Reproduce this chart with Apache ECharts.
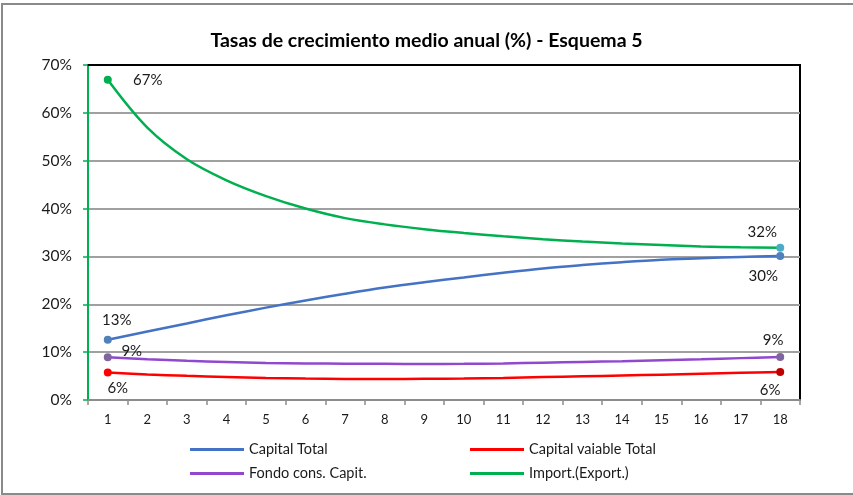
<!DOCTYPE html>
<html>
<head>
<meta charset="utf-8">
<style>
  html, body { margin: 0; padding: 0; background: #fff; }
  #chart { width: 853px; height: 495px; }
</style>
<script src="https://cdn.jsdelivr.net/npm/echarts@6/dist/echarts.min.js"></script>
</head>
<body>
<div id="chart"></div>
<script>
// Años del horizonte de proyección
const years = ['1','2','3','4','5','6','7','8','9','10','11','12','13','14','15','16','17','18'];

// Tasas de crecimiento medio anual (%)
const capitalTotal = [12.6, 14.3, 16.0, 17.7, 19.3, 20.8, 22.2, 23.5, 24.6, 25.6, 26.6, 27.5, 28.2, 28.8, 29.3, 29.6, 29.9, 30.1];
const capitalVariable = [5.75, 5.35, 5.05, 4.8, 4.6, 4.48, 4.4, 4.38, 4.42, 4.5, 4.62, 4.78, 4.95, 5.12, 5.3, 5.48, 5.67, 5.85];
const fondoCons = [8.93, 8.5, 8.2, 7.95, 7.75, 7.65, 7.58, 7.55, 7.53, 7.55, 7.65, 7.8, 7.95, 8.1, 8.3, 8.5, 8.75, 9.0];
const importExport = [66.9, 56.9, 50.3, 45.9, 42.6, 40.0, 38.0, 36.7, 35.7, 34.9, 34.2, 33.6, 33.1, 32.7, 32.4, 32.1, 31.9, 31.8];

const seriesNames = ['Capital Total', 'Capital vaiable Total', 'Fondo cons. Capit.', 'Import.(Export.)'];

const FONT = 'Lato, "Liberation Sans", sans-serif';

// Only the first and last points carry a marker and a value label
function endpoints(values, startStyle, endStyle) {
  const last = values.length - 1;
  return values.map((v, i) => {
    if (i === 0 || i === last) {
      const s = i === 0 ? startStyle : endStyle;
      return {
        value: v,
        symbol: 'circle',
        symbolSize: 8,
        itemStyle: { color: s.color },
        label: {
          show: true,
          position: 'inside',
          offset: s.offset,
          formatter: p => Math.round(p.value) + '%',
          color: '#1a1a1a',
          fontFamily: FONT,
          fontSize: 15
        }
      };
    }
    return { value: v, symbol: 'none' };
  });
}

function lineSeries(name, color, data) {
  return {
    name: name,
    type: 'line',
    smooth: 0.35,
    showAllSymbol: true,
    symbol: 'none',
    lineStyle: { color: color, width: 2.5 },
    itemStyle: { color: color },
    data: data,
    z: 3
  };
}

const legendBase = {
  orient: 'vertical',
  top: 442,
  padding: 0,
  itemGap: 9,
  icon: 'rect',
  itemWidth: 54,
  itemHeight: 3,
  textStyle: { fontFamily: FONT, fontSize: 14.5, color: '#1a1a1a', padding: [0, 0, 0, 0] }
};

const chart = echarts.init(document.getElementById('chart'), null, { renderer: 'canvas' });

chart.setOption({
  backgroundColor: '#fff',
  animation: false,
  title: {
    text: 'Tasas de crecimiento medio anual (%) - Esquema 5',
    left: 'center',
    top: 26,
    textStyle: { fontFamily: FONT, fontWeight: 'bold', fontSize: 19.5, color: '#000' }
  },
  graphic: [{
    type: 'rect',
    shape: { x: 2, y: 4, width: 860, height: 490 },
    style: { fill: null, stroke: '#8a8a8a', lineWidth: 2 },
    silent: true
  }],
  legend: [
    Object.assign({}, legendBase, { left: 190, data: [seriesNames[0], seriesNames[2]] }),
    Object.assign({}, legendBase, { left: 470, data: [seriesNames[1], seriesNames[3]] })
  ],
  grid: {
    left: 88,
    top: 65,
    width: 712,
    height: 335,
    show: true,
    borderColor: '#000',
    borderWidth: 2,
    backgroundColor: 'transparent'
  },
  xAxis: [{
    type: 'category',
    data: years,
    boundaryGap: true,
    axisLine: { show: true, lineStyle: { color: '#8c8c8c', width: 2 } },
    axisTick: { show: true, alignWithLabel: false, length: 5, lineStyle: { color: '#8c8c8c', width: 1.5 } },
    axisLabel: { color: '#1a1a1a', fontFamily: FONT, fontSize: 13, margin: 13 },
    splitLine: { show: false }
  }, {
    // plot frame along the top edge
    type: 'category',
    data: years,
    position: 'top',
    axisLine: { show: true, lineStyle: { color: '#000', width: 2 } },
    axisTick: { show: false },
    axisLabel: { show: false },
    splitLine: { show: false }
  }],
  yAxis: {
    type: 'value',
    min: 0,
    max: 70,
    interval: 10,
    axisLine: { show: true, lineStyle: { color: '#00B050', width: 2 } },
    axisTick: { show: true, inside: false, length: 5, lineStyle: { color: '#00B050', width: 1.5 } },
    axisLabel: { formatter: '{value}%', color: '#1a1a1a', fontFamily: FONT, fontSize: 15.5, margin: 16 },
    splitLine: { show: true, lineStyle: { color: '#a0a0a0', width: 2 } }
  },
  series: [
    lineSeries(seriesNames[0], '#4472C4',
      endpoints(capitalTotal, { color: '#4F81BD', offset: [9, -20] }, { color: '#4F81BD', offset: [-17, 20] })),
    lineSeries(seriesNames[1], '#FF0000',
      endpoints(capitalVariable, { color: '#FF0000', offset: [10, 16] }, { color: '#C00000', offset: [-10, 18] })),
    lineSeries(seriesNames[2], '#9148CF',
      endpoints(fondoCons, { color: '#8064A2', offset: [24, -6] }, { color: '#8064A2', offset: [-7, -17] })),
    lineSeries(seriesNames[3], '#00B050',
      endpoints(importExport, { color: '#00B050', offset: [40, 0] }, { color: '#4BACC6', offset: [-18, -16] }))
  ]
});
</script>
</body>
</html>
